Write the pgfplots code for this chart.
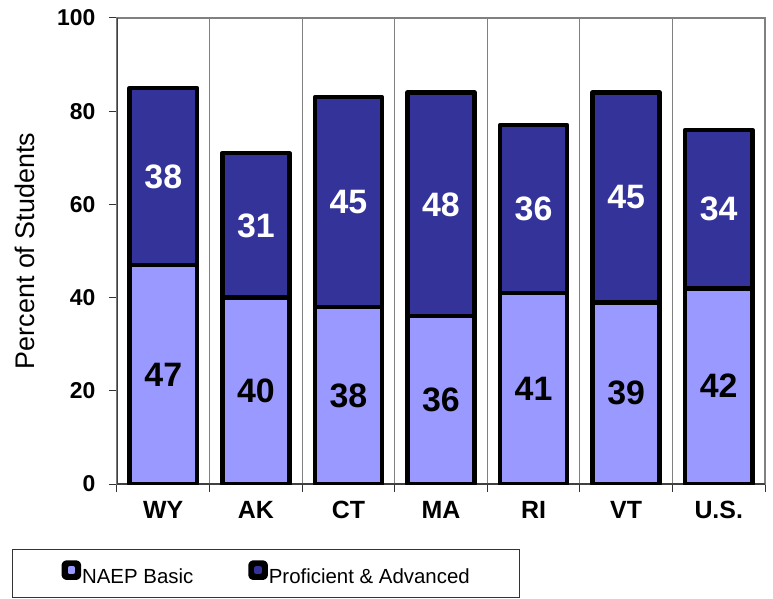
\documentclass[border=0pt]{standalone}
\usepackage{fontspec}
\setmainfont{Liberation Sans}
\usepackage{pgfplots}
\usepackage{pgfplotstable}
\pgfplotsset{compat=1.18}
\definecolor{basic}{HTML}{9999FF}
\definecolor{prof}{HTML}{333399}
\definecolor{frame}{HTML}{808080}
\pgfplotstableread{
x basic prof
0 47 38
1 40 31
2 38 45
3 36 48
4 41 36
5 39 45
6 42 34
}\data
\begin{document}
\begin{tikzpicture}
\pgfplotsset{common/.style={scale only axis, width=648bp, height=466bp,
  xmin=-0.5, xmax=6.5, ymin=0, ymax=100, at={(0,0)}, anchor=south west}}
\begin{axis}[common, ybar stacked, bar width=0.725,
  /pgf/number format/assume math mode=true,
  axis line style={draw=frame, line width=1.2bp},
  tick align=outside, xtick pos=bottom, ytick pos=left,
  xtick={0,...,6}, xticklabels={WY,AK,CT,MA,RI,VT,U.S.},
  major x tick style={draw=none},
  minor xtick={-0.5,0.5,...,6.5}, xminorgrids,
  minor grid style={draw=frame, line width=1bp},
  minor x tick style={draw=black!80, line width=1bp},
  minor tick length=8bp, major tick length=8bp,
  ytick={0,20,...,100},
  y tick style={draw=black!80, line width=1bp},
  x tick label style={font=\fontsize{25}{29}\selectfont\bfseries, yshift=-6bp},
  y tick label style={font=\fontsize{23}{27}\selectfont\bfseries, xshift=-10bp},
  ylabel={Percent of Students},
  ylabel style={font=\fontsize{27}{31}\selectfont, yshift=16bp},
  legend columns=2,
  legend style={at={(rel axis cs:-0.162,-0.139)}, anchor=north west,
    draw=black!80, line width=1.2bp, inner xsep=49bp, inner ysep=11bp,
    font=\fontsize{20.5}{24}\selectfont,
    nodes={inner xsep=1bp},
    /tikz/every even column/.append style={column sep=54bp},
    cells={anchor=west}},
]
\addplot[fill=basic, draw=black, line width=4.5bp, line join=round,
  legend image code/.code={\fill[black, rounded corners=2.5bp] (0bp,-1bp) rectangle (15bp,14bp);
    \fill[basic] (6bp,4.5bp) rectangle (9bp,8.5bp);}]
  table[x=x, y=basic] {\data};
\addlegendentry{NAEP Basic}
\addplot[fill=prof, draw=black, line width=4.5bp, line join=round,
  legend image code/.code={\fill[black, rounded corners=2.5bp] (0bp,-1bp) rectangle (15bp,14bp);
    \fill[prof] (6bp,4.5bp) rectangle (9bp,8.5bp);}]
  table[x=x, y=prof] {\data};
\addlegendentry{Proficient \& Advanced}
\draw[black!75, line width=1.5bp] (rel axis cs:0,1) -- (rel axis cs:0,0) -- (rel axis cs:1,0);
\end{axis}
\begin{axis}[common, hide axis]
\addplot[only marks, mark=*, mark size=0pt, mark options={draw=none, fill=none},
  point meta=explicit symbolic, nodes near coords,
  every node near coord/.style={anchor=center, text=black, font=\fontsize{34}{38}\selectfont\bfseries}]
  table[x=x, y expr=\thisrow{basic}/2, meta=basic] {\data};
\addplot[only marks, mark=*, mark size=0pt, mark options={draw=none, fill=none},
  point meta=explicit symbolic, nodes near coords,
  every node near coord/.style={anchor=center, text=white, font=\fontsize{34}{38}\selectfont\bfseries}]
  table[x=x, y expr=\thisrow{basic}+\thisrow{prof}/2, meta=prof] {\data};
\end{axis}
\pgfresetboundingbox
\path[use as bounding box] (-117bp,-115bp) rectangle (656bp,484bp);
\end{tikzpicture}
\end{document}
